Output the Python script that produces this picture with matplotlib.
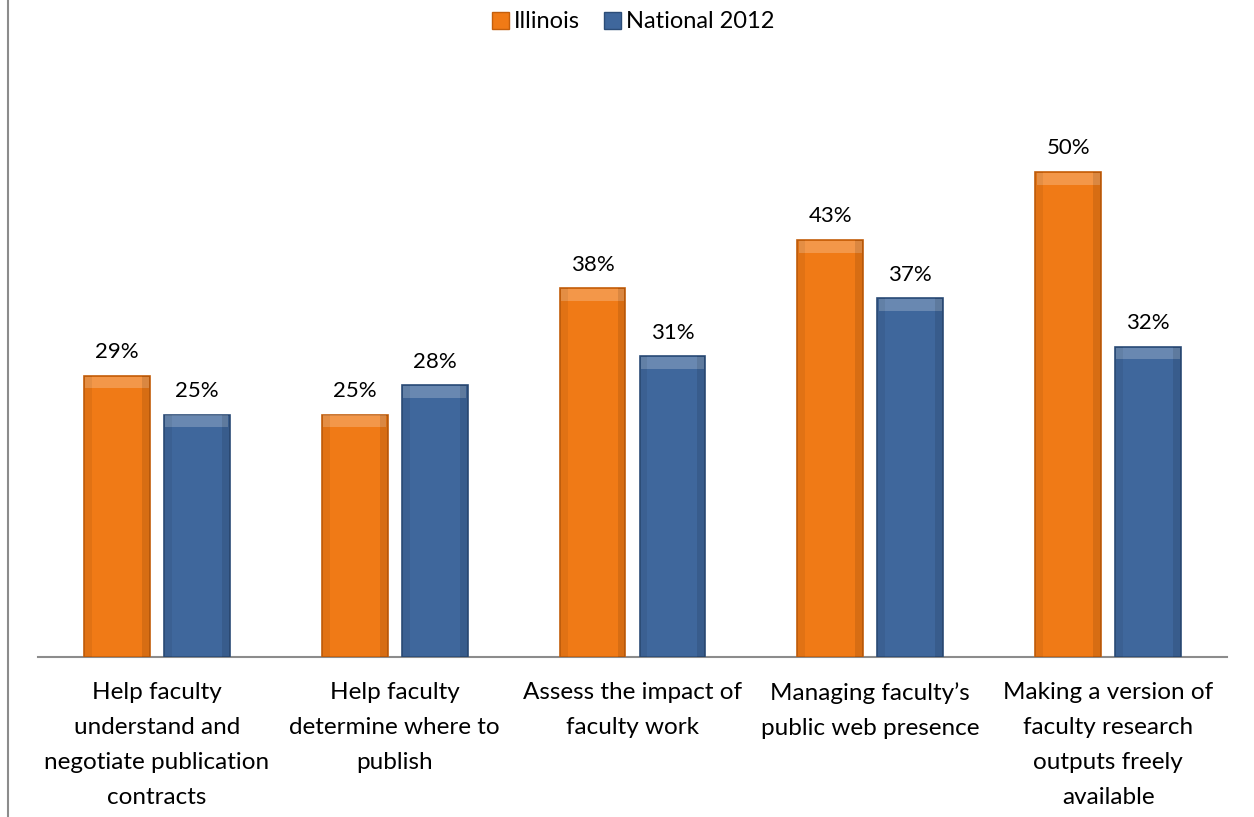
import numpy as np
import matplotlib.pyplot as plt
from matplotlib.lines import Line2D

categories = ["Help faculty\nunderstand and\nnegotiate publication\ncontracts",
              "Help faculty\ndetermine where to\npublish",
              "Assess the impact of\nfaculty work",
              "Managing faculty\u2019s\npublic web presence",
              "Making a version of\nfaculty research\noutputs freely\navailable"]
illinois = [29, 25, 38, 43, 50]
national = [25, 28, 31, 37, 32]
series_names = ["Illinois", "National 2012"]

orange = "#F07A16"
orange_edge = "#C45F0C"
blue = "#3F679C"
blue_edge = "#2C4D78"

plt.rcParams['font.family'] = ['Lato', 'DejaVu Sans']

fig = plt.figure(figsize=(12.54, 8.17), dpi=100)
ax = fig.add_axes([38 / 1254, 1 - 657 / 817, 1189 / 1254, 582 / 817])

x = np.arange(len(categories))
w = 0.277
off = 0.168


def bevel_bars(xs, vals, face, edge):
    bars = ax.bar(xs, vals, w, color=face, edgecolor=edge, linewidth=1.2, zorder=2)
    # light bevel strip on top and darker sides to mimic the 3D look
    ax.bar(xs, [1.2] * len(vals), w * 0.96, bottom=np.array(vals) - 1.3,
           color="white", alpha=0.22, linewidth=0, zorder=3)
    ax.bar(xs - w * 0.44, vals, w * 0.12, color="black", alpha=0.06, linewidth=0, zorder=3)
    ax.bar(xs + w * 0.44, vals, w * 0.12, color="black", alpha=0.10, linewidth=0, zorder=3)
    for b, v in zip(bars, vals):
        ax.text(b.get_x() + b.get_width() / 2, v + 1.4, f"{v}%", ha="center",
                va="bottom", fontsize=16, color="black")


bevel_bars(x - off, illinois, orange, orange_edge)
bevel_bars(x + off, national, blue, blue_edge)

ax.set_xlim(-0.5, len(categories) - 0.5)
ax.set_ylim(0, 60)
ax.set_yticks([])
ax.set_xticks(x)
ax.set_xticklabels(categories, fontsize=17.5, linespacing=1.83)
ax.tick_params(axis="x", length=0, pad=18)
for s in ["top", "right", "left"]:
    ax.spines[s].set_visible(False)
ax.spines["bottom"].set_color("#8C8C8C")
ax.spines["bottom"].set_linewidth(1.5)
ax.spines["bottom"].set_zorder(1)

handles = [plt.Rectangle((0, 0), 1, 1, facecolor=orange, edgecolor=orange_edge),
           plt.Rectangle((0, 0), 1, 1, facecolor=blue, edgecolor=blue_edge)]
fig.legend(handles, series_names, loc="center", bbox_to_anchor=(0.5 + 6 / 1254, 1 - 22 / 817),
           ncol=2, frameon=False, fontsize=17, handlelength=0.75, handleheight=0.75,
           handletextpad=0.2, columnspacing=1.0)

# left border line of the chart frame
fig.add_artist(Line2D([8 / 1254, 8 / 1254], [0, 1], color="#8C8C8C", linewidth=1.5))

fig.savefig("out.png", dpi=100)
